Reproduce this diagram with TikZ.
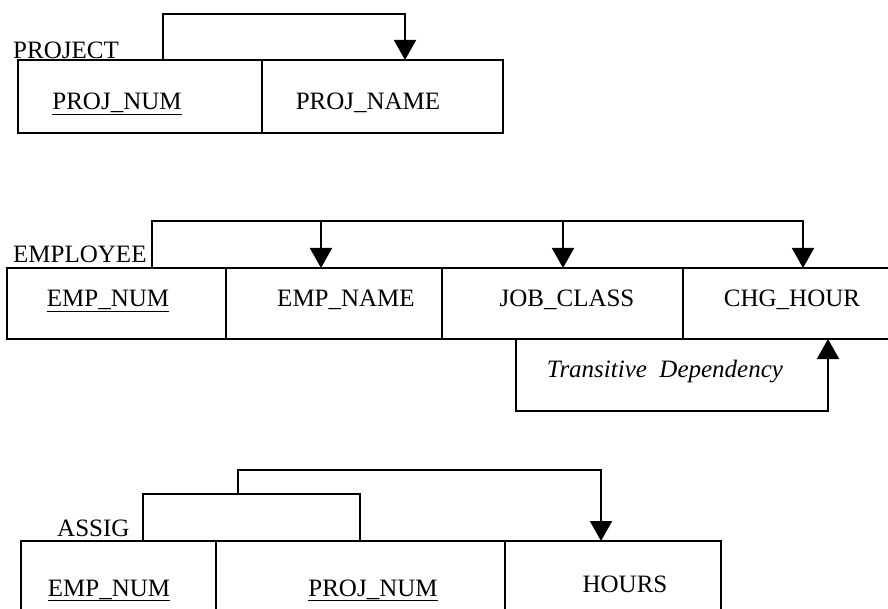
\documentclass[tikz,border=0pt]{standalone}
\usepackage{fontspec}
\setmainfont{Liberation Serif}
\usetikzlibrary{arrows.meta}
\begin{document}
\begin{tikzpicture}[x=1pt,y=-1pt,
  cellbox/.style n args={2}{draw,line width=2pt,anchor=north west,
    inner sep=0pt,outer sep=0pt,minimum width=#1,minimum height=#2},
  txt/.style={font=\fontsize{25}{28}\selectfont,anchor=base,inner sep=0pt},
  tablename/.style={font=\fontsize{25}{28}\selectfont,anchor=base west,inner sep=0pt},
  link/.style={line width=2pt},
  dep/.style={line width=2pt,-{Triangle[width=22pt,length=20pt]}}]
\useasboundingbox (0,0) rectangle (888,609);
\clip (0,0) rectangle (888,609);

% ---------------- PROJECT ----------------
\node[tablename] (tproj) at (13,59) {PROJECT};
\node[cellbox={244}{73}] (pnum)  at (18,60)  {};
\node[cellbox={241}{73}] (pname) at (262,60) {};
\node[txt] (pnumt)  at (117,110) {\underline{PROJ\_NUM}};
\node[txt] (pnamet) at (368,110) {PROJ\_NAME};
\coordinate (pk)  at (163,60);
\coordinate (pd1) at (405,60);
\draw[dep] (pk) -- ++(0,-46) -| (pd1);

% ---------------- EMPLOYEE ----------------
\node[tablename] (temp) at (13,263) {EMPLOYEE};
\node[cellbox={219}{71}] (enum)   at (7,268)   {};
\node[cellbox={216}{71}] (ename)  at (226,268) {};
\node[cellbox={241}{71}] (eclass) at (442,268) {};
\node[cellbox={220}{71}] (ehour)  at (683,268) {};
\node[txt] (enumt)   at (108,307) {\underline{EMP\_NUM}};
\node[txt] (enamet)  at (346,307) {EMP\_NAME};
\node[txt] (eclasst) at (567,307) {JOB\_CLASS};
\node[txt] (ehourt)  at (792,306) {CHG\_HOUR};
\coordinate (ek)  at (152,268);
\coordinate (ed1) at (321,268);
\coordinate (ed2) at (563,268);
\coordinate (ed3) at (803,268);
\draw[link] (ek) -- ++(0,-47) -| (ed3);
\draw[dep] (ed1 |- 0,221) -- (ed1);
\draw[dep] (ed2 |- 0,221) -- (ed2);
\draw[dep] (ed3 |- 0,221) -- (ed3);

% transitive dependency JOB_CLASS -> CHG_HOUR
\coordinate (tk) at (516,339);
\coordinate (td) at (828,339);
\draw[dep] (tk) -- ++(0,72) -| (td);
\node[font=\fontsize{25}{28}\selectfont\itshape,anchor=base,inner sep=0pt]
  (tlabel) at (665,377) {Transitive\ \ Dependency};

% ---------------- ASSIG ----------------
\node[tablename] (tass) at (57,536) {ASSIG};
\node[cellbox={195}{90}] (anum)  at (21,541)  {};
\node[cellbox={289}{90}] (apnum) at (216,541) {};
\node[cellbox={216}{90}] (ahour) at (505,541) {};
\node[txt] (anumt)  at (109,596) {\underline{EMP\_NUM}};
\node[txt] (apnumt) at (373,596) {\underline{PROJ\_NUM}};
\node[txt] (ahourt) at (625,592) {HOURS};
\coordinate (ak1) at (143,541);
\coordinate (ak2) at (360,541);
\coordinate (aj)  at (238,494);
\coordinate (ad)  at (601,541);
\draw[link] (ak1) -- ++(0,-47) -| (ak2);
\draw[dep] (aj) -- ++(0,-24) -| (ad);
\end{tikzpicture}
\end{document}
